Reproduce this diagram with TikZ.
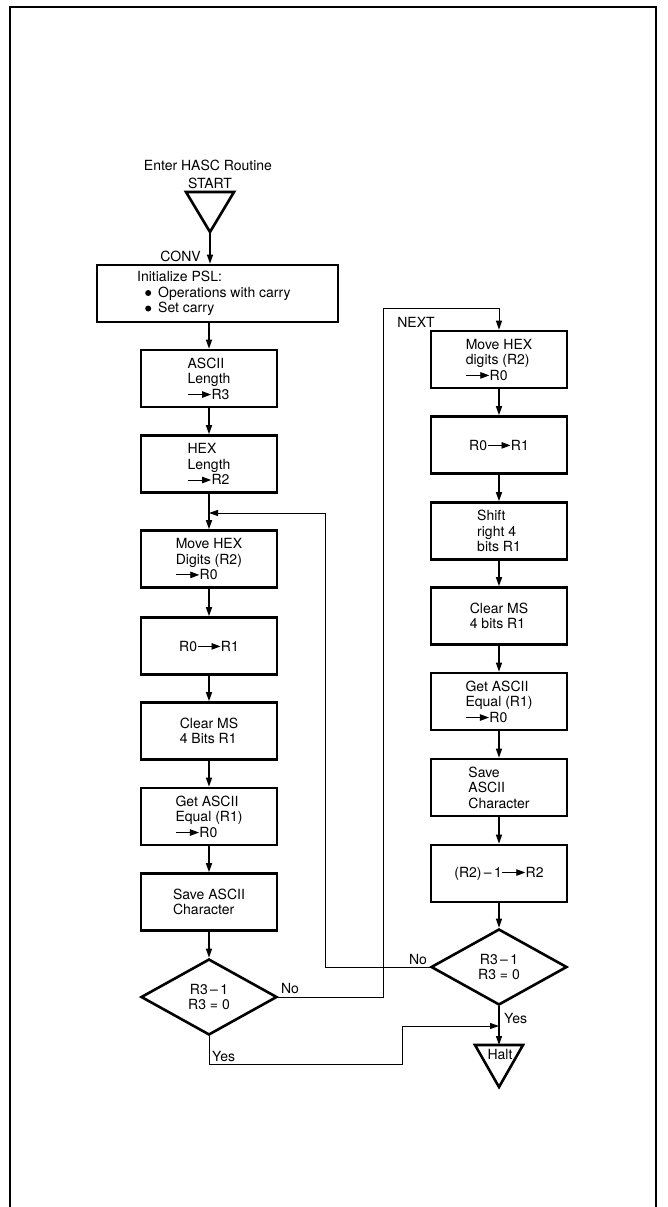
\documentclass[tikz,border=0pt]{standalone}
\usepackage{fontspec}
\setmainfont{TeX Gyre Heros}
\usetikzlibrary{arrows.meta,shapes.geometric}

% small "load into" arrow used inside box texts
\newcommand\regarrow{\tikz[x=1pt,y=1pt,baseline=-4.6pt]\draw[line width=0.9pt,-{Triangle[length=9pt,width=6.5pt]}] (0,0)--(23,0);}
% list bullet
\newcommand\listdot{\tikz[x=1pt,y=1pt,baseline=-4.2pt]\fill (0,0) circle (3pt);}

\tikzset{
  txt/.style={font=\fontsize{14}{15.5}\selectfont, inner sep=0pt},
  procbox/.style={draw, line width=2.6pt, rectangle, minimum width=136pt, minimum height=57pt,
    align=left, font=\fontsize{14}{15.5}\selectfont, inner sep=2pt},
  decision/.style={draw, line width=2.6pt, diamond, aspect=1.8, minimum width=136pt, minimum height=76pt,
    align=center, font=\fontsize{14}{15.5}\selectfont, inner sep=0pt},
  flow/.style={line width=1.4pt, -{Triangle[length=9pt,width=6pt]}},
  loopline/.style={line width=1pt},
  looparrow/.style={line width=1pt, -{Triangle[length=9pt,width=6pt]}},
  term/.style={line width=2.6pt, line join=miter}
}

\begin{document}
\begin{tikzpicture}[x=1pt,y=-1pt]
\useasboundingbox (0,0) rectangle (667,1207);

% page frame, open at the bottom
\draw[line width=2pt] (10,1207) -- (10,7) -- (656,7) -- (656,1207);

% entry
\node[txt] (enter) at (208,165) {Enter HASC Routine};
\node[txt] (startlbl) at (210,183) {START};
\coordinate (startTL) at (186,192);
\coordinate (startTR) at (234,192);
\coordinate (startTip) at (210,232);
\draw[term] (startTL) -- (startTR) -- (startTip) -- cycle;

% left column
\node[draw, line width=2.6pt, minimum width=241pt, minimum height=57pt] (init) at (217.5,293.5) {};
\node[txt, anchor=west, align=left] (initText) at (137,293.5)
  {Initialize PSL:\\[0pt]\hspace*{8pt}\listdot\hspace{7pt}Operations with carry\\[0pt]\hspace*{8pt}\listdot\hspace{7pt}Set carry};
\node[txt, anchor=east] (conv) at (201,256) {CONV};

\node[procbox] (asciiL) at (209,378.5) {ASCII\\Length\\\regarrow R3};
\node[procbox] (hexL)   at (209,464)   {HEX\\Length\\\regarrow R2};
\node[procbox] (moveL)  at (209,559)   {Move HEX\\Digits (R2)\\\regarrow R0};
\node[procbox] (copyL)  at (209,646)   {R0\regarrow R1};
\node[procbox] (clearL) at (209,731)   {Clear MS\\4 Bits R1};
\node[procbox] (getL)   at (209,816.5) {Get ASCII\\Equal (R1)\\\regarrow R0};
\node[procbox] (saveL)  at (209,902)   {Save ASCII\\Character};
\node[decision] (testL) at (209,997)   {R3\,–\,1\\R3 = 0};

% right column
\node[procbox] (moveR)  at (499,359.5) {Move HEX\\digits (R2)\\\regarrow R0};
\node[procbox] (copyR)  at (499,445)   {R0\regarrow R1};
\node[procbox] (shiftR) at (499,531)   {Shift\\right 4\\bits R1};
\node[procbox] (clearR) at (499,616)   {Clear MS\\4 bits R1};
\node[procbox] (getR)   at (499,701.5) {Get ASCII\\Equal (R1)\\\regarrow R0};
\node[procbox] (saveR)  at (499,787.5) {Save\\ASCII\\Character};
\node[procbox] (decR)   at (499,873.5) {(R2)\,–\,1\regarrow R2};
\node[decision] (testR) at (499,967)   {R3\,–\,1\\R3 = 0};

% halt terminal
\coordinate (haltTL) at (475,1045);
\coordinate (haltTR) at (523,1045);
\coordinate (haltTip) at (499,1087);
\draw[term] (haltTL) -- (haltTR) -- (haltTip) -- cycle;
\node[txt] (halt) at (500,1054) {Halt};
\coordinate (haltTop) at (499,1045);

% main flow, left
\draw[flow] (startTip) -- (startTip |- init.north);
\draw[flow] (asciiL.north |- init.south) -- (asciiL.north);
\draw[flow] (asciiL) -- (hexL);
\draw[flow] (hexL) -- (moveL);
\draw[flow] (moveL) -- (copyL);
\draw[flow] (copyL) -- (clearL);
\draw[flow] (clearL) -- (getL);
\draw[flow] (getL) -- (saveL);
\draw[flow] (saveL) -- (testL);

% main flow, right
\draw[flow] (moveR) -- (copyR);
\draw[flow] (copyR) -- (shiftR);
\draw[flow] (shiftR) -- (clearR);
\draw[flow] (clearR) -- (getR);
\draw[flow] (getR) -- (saveR);
\draw[flow] (saveR) -- (decR);
\draw[flow] (decR) -- (testR);
\draw[flow] (testR.south) -- (haltTop);

% loop back from the right test
\coordinate (loopIn) at (209,513);
\draw[looparrow] (testR.west) -- (325,967) -- (325,513) -- (loopIn);

% branch to NEXT from the left test
\draw[looparrow] (testL.east) -- (383,997) -- (383,308) -- (499,308) -- (moveR.north);
\node[txt] (next) at (416,322) {NEXT};

% left "Yes" to halt
\coordinate (haltJoin) at (499,1026);
\draw[looparrow] (testL.south) -- (209,1064) -- (402,1064) -- (402,1026) -- (haltJoin);

% branch labels
\node[txt] (noL)  at (290,988)  {No};
\node[txt] (noR)  at (418,959)  {No};
\node[txt, anchor=west] (yesL) at (212,1056) {Yes};
\node[txt, anchor=west] (yesR) at (504,1018) {Yes};
\end{tikzpicture}
\end{document}
